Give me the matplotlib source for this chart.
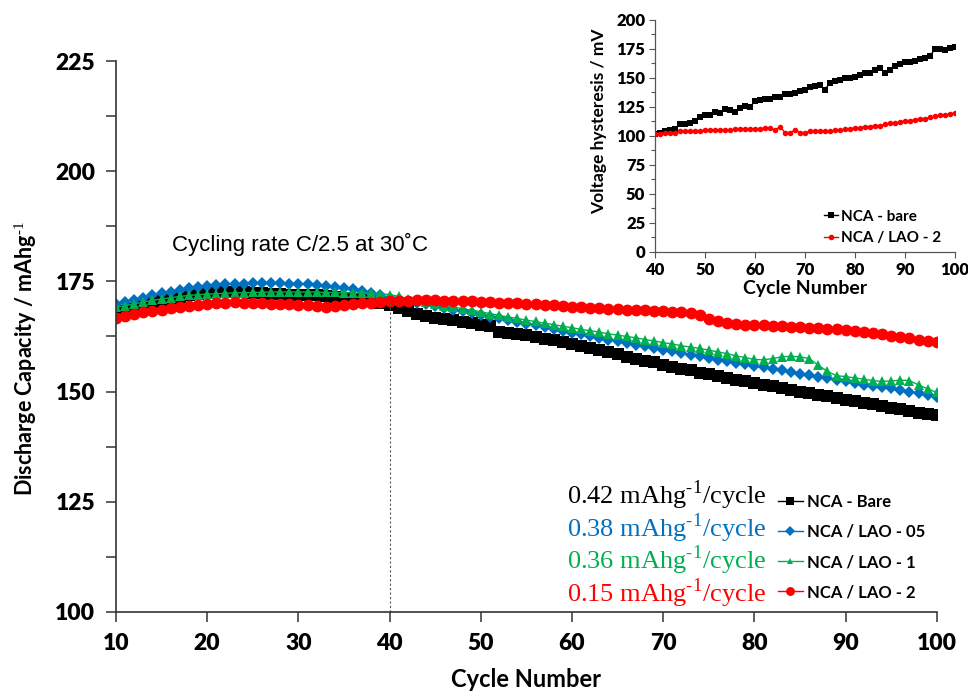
import numpy as np
import matplotlib
matplotlib.use("Agg")
import matplotlib.pyplot as plt
from matplotlib.ticker import MultipleLocator

plt.rcParams['font.family'] = ['Lato', 'DejaVu Sans']
plt.rcParams['mathtext.fontset'] = 'custom'
plt.rcParams['mathtext.rm'] = 'Liberation Serif'

# ---- main plot data: discharge capacity (mAh/g) for cycles 10..100
cycles = np.arange(10, 101)

cap_bare = [
    167.6, 168.2, 168.8, 169.4, 170.0, 170.5, 171.0, 171.4, 171.8, 172.1,
    172.3, 172.5, 172.6, 172.6, 172.5, 172.4, 172.3, 172.2, 172.1, 172.0,
    172.0, 171.9, 171.8, 171.6, 171.5, 171.3, 171.1, 170.9, 170.6, 170.2,
    169.6, 168.9, 168.2, 167.5, 167.1, 166.8, 166.5, 166.2, 165.8, 165.5,
    165.2, 164.9, 163.6, 163.4, 163.1, 162.8, 162.4, 162.0, 161.7, 161.3,
    160.7, 160.3, 159.9, 159.5, 159.0, 158.5, 157.9, 157.4, 157.0, 156.6,
    156.1, 155.6, 155.2, 154.8, 154.3, 153.9, 153.5, 153.1, 152.6, 152.3,
    151.9, 151.5, 151.2, 150.8, 150.4, 150.0, 149.6, 149.2, 148.9, 148.6,
    148.2, 147.9, 147.5, 147.1, 146.7, 146.3, 146.0, 145.6, 145.2, 144.9,
    144.6]

cap_lao05 = [
    169.8, 170.3, 170.8, 171.3, 171.8, 172.3, 172.7, 173.1, 173.4, 173.7,
    173.9, 174.1, 174.3, 174.4, 174.5, 174.6, 174.6, 174.6, 174.6, 174.5,
    174.5, 174.4, 174.2, 174.0, 173.8, 173.6, 173.2, 172.8, 172.3, 171.8,
    171.3, 170.9, 170.6, 170.2, 169.8, 169.4, 169.0, 168.6, 168.2, 167.8,
    167.4, 167.0, 166.6, 166.2, 165.8, 165.4, 165.0, 164.6, 164.2, 163.8,
    163.4, 163.0, 162.6, 162.2, 161.8, 161.4, 161.0, 160.6, 160.3, 159.9,
    159.5, 159.1, 158.7, 158.4, 158.0, 157.6, 157.2, 156.9, 156.5, 156.2,
    155.8, 155.5, 155.1, 154.8, 154.4, 154.1, 153.7, 153.4, 153.0, 152.7,
    152.3, 152.0, 151.6, 151.3, 151.0, 150.7, 150.3, 150.0, 149.6, 149.3,
    148.8]

cap_lao1 = [
    169.1, 169.5, 169.9, 170.3, 170.7, 171.0, 171.3, 171.6, 171.8, 172.0,
    172.1, 172.2, 172.3, 172.4, 172.4, 172.5, 172.5, 172.6, 172.6, 172.6,
    172.6, 172.6, 172.6, 172.5, 172.5, 172.4, 172.4, 172.3, 172.3, 172.2,
    172.0, 171.6, 171.1, 170.7, 170.3, 169.9, 169.5, 169.2, 168.8, 168.5,
    168.1, 167.7, 167.3, 166.9, 166.6, 166.2, 165.9, 165.5, 165.2, 164.8,
    164.5, 164.1, 163.8, 163.5, 163.1, 162.8, 162.5, 162.2, 161.8, 161.5,
    161.1, 160.8, 160.4, 160.1, 159.8, 159.4, 159.0, 158.6, 158.1, 157.7,
    157.3, 157.2, 157.5, 157.9, 158.0, 157.9, 157.5, 156.0, 154.6, 153.6,
    153.4, 153.1, 152.8, 152.5, 152.3, 152.4, 152.6, 152.5, 151.5, 150.6,
    149.8]

cap_lao2 = [
    166.8, 167.2, 167.6, 168.0, 168.3, 168.6, 168.9, 169.2, 169.5, 169.7,
    169.9, 170.1, 170.2, 170.3, 170.2, 170.1, 170.0, 169.9, 169.8, 169.8,
    169.7, 169.6, 169.4, 169.3, 169.5, 169.6, 169.8, 170.0, 170.2, 170.4,
    170.5, 170.6, 170.6, 170.7, 170.7, 170.7, 170.6, 170.6, 170.5, 170.5,
    170.4, 170.3, 170.2, 170.1, 170.0, 169.9, 169.8, 169.7, 169.6, 169.4,
    169.3, 169.2, 169.0, 168.9, 168.8, 168.7, 168.6, 168.5, 168.4, 168.3,
    168.2, 168.1, 168.0, 167.8, 167.3, 166.5, 166.0, 165.6, 165.4, 165.2,
    165.1, 165.0, 164.9, 164.8, 164.7, 164.6, 164.5, 164.4, 164.3, 164.1,
    164.0, 163.8, 163.5, 163.2, 163.0, 162.7, 162.4, 162.1, 161.8, 161.5,
    161.2]

labels = ["NCA - Bare", "NCA / LAO - 05", "NCA / LAO - 1", "NCA / LAO - 2"]
rates = ["0.42", "0.38", "0.36", "0.15"]
colors = ["black", "#0070C0", "#00B050", "#FF0000"]
markers = ["s", "D", "^", "o"]
msizes = [8, 6.5, 6.5, 8.5]

# ---- inset data: voltage hysteresis (mV) for cycles 40..100
cycles_in = np.arange(40, 101)
hyst_bare = [
    102, 103, 104, 105, 106, 110, 110, 111, 113, 116,
    118, 118, 121, 120, 123, 122, 121, 124, 126, 125,
    130, 131, 132, 132, 134, 134, 136, 136, 137, 139,
    140, 142, 143, 144, 140, 146, 147, 148, 150, 150,
    151, 153, 154, 154, 157, 159, 154, 157, 160, 162,
    164, 164, 165, 166, 167, 169, 175, 175, 174, 176,
    177]
hyst_lao2 = [
    102, 102, 103, 103, 103, 104, 104, 104, 104, 104,
    105, 105, 105, 105, 105, 105, 106, 106, 106, 106,
    106, 106, 107, 107, 105, 108, 103, 103, 105, 103,
    103, 104, 104, 104, 104, 104, 105, 105, 106, 106,
    107, 107, 108, 108, 109, 109, 110, 111, 111, 112,
    113, 113, 114, 115, 115, 116, 117, 118, 118, 119,
    120]

fig = plt.figure(figsize=(9.68, 6.94), dpi=100)
ax = fig.add_axes([0.1198, 0.1182, 0.848, 0.7939])

series = [cap_bare, cap_lao05, cap_lao1, cap_lao2]
handles = []
for vals, lab, c, m, ms in zip(series, labels, colors, markers, msizes):
    h, = ax.plot(cycles, vals, color=c, marker=m, markersize=ms, lw=1,
                 markeredgewidth=0, label=lab)
    handles.append(h)

ax.vlines(40, 100, 170.3, colors="#555555", linestyles=(0, (2, 2)), lw=0.8)

ax.set_xlim(10, 100)
ax.set_ylim(100, 225)
ax.xaxis.set_major_locator(MultipleLocator(10))
ax.yaxis.set_major_locator(MultipleLocator(25))
ax.yaxis.set_minor_locator(MultipleLocator(12.5))
ax.spines['top'].set_visible(False)
ax.spines['right'].set_visible(False)
for s in ['left', 'bottom']:
    ax.spines[s].set_linewidth(1.2)
    ax.spines[s].set_color('#333333')
ax.tick_params(axis='both', which='major', length=7, width=1.1, color='#333333',
               labelsize=16.5, pad=8)
ax.tick_params(axis='y', which='minor', length=7, width=1.1, color='#333333')
for t in ax.get_xticklabels() + ax.get_yticklabels():
    t.set_fontweight('heavy')

ax.set_xlabel("Cycle Number", fontsize=17, fontweight='bold', labelpad=10)
ax.set_ylabel("Discharge Capacity / mAhg$^{\\mathsf{\\text{-1}}}$", fontsize=15.5,
              fontweight='bold')
ax.yaxis.set_label_coords(-0.094, 0.46)

ax.text(30.2, 183.3, "Cycling rate C/2.5 at 30\u02daC", fontsize=16,
        family='Liberation Sans', ha='center', va='center')

leg = ax.legend(handles=handles, loc='lower right', bbox_to_anchor=(1.0, 0.0),
                frameon=False, fontsize=12, handlelength=1.5, handletextpad=0.25,
                labelspacing=0.85, borderpad=0.2, markerscale=0.75)
for t in leg.get_texts():
    t.set_fontweight('bold')

row_y = [0.2123, 0.1525, 0.0944, 0.0345]
for r, c, yy in zip(rates, colors, row_y):
    ax.text(0.792, yy, r + " mAhg$^{\\text{-1}}$/cycle", transform=ax.transAxes,
            color=c, fontsize=19, family='Liberation Serif', ha='right',
            va='center')

# ---- inset
axi = fig.add_axes([0.6767, 0.6369, 0.3099, 0.3343])
axi.plot(cycles_in, hyst_bare, color='black', marker='s', markersize=4,
         lw=1, markeredgewidth=0, label="NCA - bare")
axi.plot(cycles_in, hyst_lao2, color='#FF0000', marker='o', markersize=4,
         lw=1, markeredgewidth=0, label="NCA / LAO - 2")
axi.set_xlim(40, 100)
axi.set_ylim(0, 200)
axi.xaxis.set_major_locator(MultipleLocator(10))
axi.yaxis.set_major_locator(MultipleLocator(25))
axi.yaxis.set_minor_locator(MultipleLocator(12.5))
axi.spines['top'].set_visible(False)
axi.spines['right'].set_visible(False)
for s in ['left', 'bottom']:
    axi.spines[s].set_linewidth(0.9)
    axi.spines[s].set_color('#555555')
axi.tick_params(axis='both', which='major', length=4, width=0.8, color='#555555',
                labelsize=12, pad=3)
axi.tick_params(axis='y', which='minor', length=3, width=0.8, color='#555555')
for t in axi.get_xticklabels() + axi.get_yticklabels():
    t.set_fontweight('heavy')
axi.set_xlabel("Cycle Number", fontsize=14, fontweight='bold', labelpad=2)
axi.set_ylabel("Voltage hysteresis / mV", fontsize=12.5, fontweight='bold')
axi.yaxis.set_label_coords(-0.16, 0.565)
legi = axi.legend(loc='lower right', bbox_to_anchor=(1.0, -0.03), frameon=False,
                  fontsize=11, handlelength=0.9, handletextpad=0.2,
                  labelspacing=0.5)
for t in legi.get_texts():
    t.set_fontweight('bold')

fig.savefig("out.png", dpi=100)
